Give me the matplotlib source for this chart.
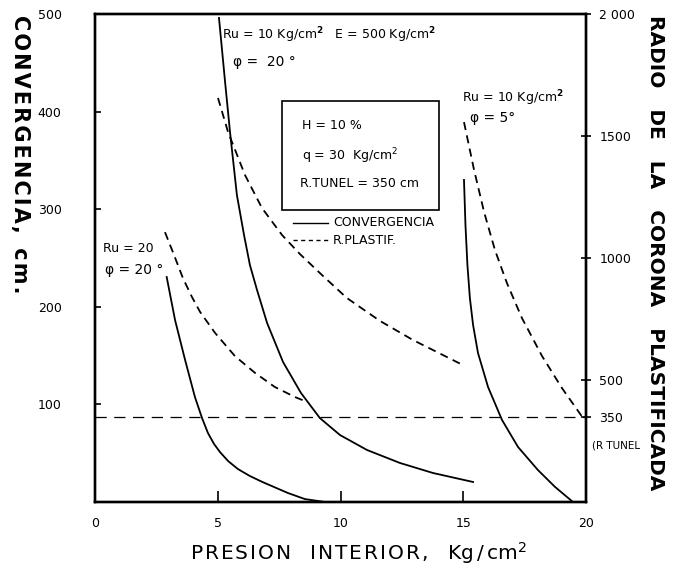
import numpy as np
import matplotlib
matplotlib.use('Agg')
import matplotlib.pyplot as plt

# presion interior (Kg/cm2) vs convergencia (cm) / radio plastificado (cm)
# Ru = 20, phi = 20
p_conv_a = [2.92, 3.26, 3.67, 4.07, 4.36, 4.60, 4.85, 5.09, 5.42, 5.82, 6.31, 6.82,
            7.86, 8.55, 9.37]
conv_a = [230.5, 186.5, 145.5, 107.6, 86, 70.7, 59.4, 51.2, 42, 33.8, 26.6, 20.5,
          9.2, 3, 0]
p_rad_a = [2.85, 3.22, 3.58, 3.95, 4.28, 4.89, 5.70, 6.52, 7.33, 8.15, 8.64]
rad_a = [1106, 1012, 918, 840, 779, 693, 598, 529, 471, 430, 410]

# Ru = 10, phi = 20
p_conv_b = [5.05, 5.30, 5.50, 5.78, 6.07, 6.31, 6.60, 7.01, 7.66, 8.39, 9.16,
            9.98, 11.08, 12.42, 13.77, 15.40]
conv_b = [496, 430, 379, 314.5, 273.6, 242.8, 217.2, 183.4, 143.4, 111.7, 86,
          68.6, 53.3, 40, 29.7, 20.5]
p_rad_b = [5.01, 5.42, 6.11, 6.80, 7.62, 8.35, 9.29, 10.26, 11.61, 12.95, 14.99]
rad_b = [1656, 1516, 1340, 1205, 1094, 1016, 926, 836, 742, 664, 561]

# Ru = 10, phi = 5
p_conv_c = [15.03, 15.09, 15.17, 15.27, 15.40, 15.60, 16.01, 16.58, 17.23, 18.04,
            18.74, 19.47]
conv_c = [330, 283.8, 242.8, 209, 181.4, 152.7, 117.8, 84, 56.4, 32.8, 15.4, 0]
p_rad_c = [15.03, 15.44, 15.85, 16.29, 16.78, 17.39, 18.21, 19.02, 19.88]
rad_c = [1557, 1361, 1188, 1033, 897, 754, 598, 467, 344]

r_tunel = 350
x_ticks = [0, 5, 10, 15, 20]
conv_ticks = [100, 200, 300, 400, 500]
rad_ticks = [500, 1000, 1500, 2000]

plt.rcParams['font.family'] = ['DejaVu Sans']


def spaced(s):
    # separacion entre letras como en el rotulado original
    return '\u200a'.join(s)


fig = plt.figure(figsize=(6.91, 5.82), dpi=100)
ax = fig.add_axes([95 / 691, 80 / 582, 491 / 691, 488 / 582])
ax2 = ax.twinx()

lw = 1.3
dash = (4.5, 3)
ax.plot(p_conv_a, conv_a, color='black', lw=lw)
ax.plot(p_conv_b, conv_b, color='black', lw=lw)
ax.plot(p_conv_c, conv_c, color='black', lw=lw)
ax2.plot(p_rad_a, rad_a, color='black', lw=lw, dashes=dash)
ax2.plot(p_rad_b, rad_b, color='black', lw=lw, dashes=dash)
ax2.plot(p_rad_c, rad_c, color='black', lw=lw, dashes=dash)
ax2.plot([0, 20], [r_tunel, r_tunel], color='black', lw=0.9, dashes=(9, 6))

ax.set_xlim(0, 20)
ax.set_ylim(0, 500)
ax2.set_ylim(0, 2000)

ax.set_xticks(x_ticks)
ax.set_yticks(conv_ticks)
ax2.set_yticks(rad_ticks + [r_tunel])
ax2.set_yticklabels(['500', '1000', '1500', '2 000', '350'])
ax.tick_params(axis='x', direction='in', length=8, width=1.2, pad=11, labelsize=9)
ax.tick_params(axis='y', direction='in', length=4, width=1.2, pad=24, labelsize=9)
ax2.tick_params(axis='y', direction='inout', length=7, width=1.2, pad=6, labelsize=9)

for a in (ax, ax2):
    for s in a.spines.values():
        s.set_linewidth(1.7)

# anotaciones
fs = 9
ax.text(5.17, 478, 'Ru = 10 Kg/cm$^{\\mathbf{2}}$   E = 500 Kg/cm$^{\\mathbf{2}}$', fontsize=fs, va='center')
ax.text(5.62, 451, 'φ =  20 °', fontsize=fs + 1, va='center')
ax.text(0.33, 260, 'Ru = 20', fontsize=fs, va='center')
ax.text(0.41, 238, 'φ = 20 °', fontsize=fs + 1, va='center')
ax.text(14.95, 414, 'Ru = 10 Kg/cm$^{\\mathbf{2}}$', fontsize=fs, va='center')
ax.text(15.27, 393, 'φ = 5°', fontsize=fs + 1, va='center')

box = plt.Rectangle((7.62, 299), 6.39, 112, fill=False, lw=1.2, color='black')
ax.add_patch(box)
ax.text(8.43, 386, 'H = 10 %', fontsize=fs, va='center')
ax.text(8.43, 354.5, 'q = 30  Kg/cm$^{2}$', fontsize=fs, va='center')
ax.text(8.35, 326, 'R.TUNEL = 350 cm', fontsize=fs, va='center')

ax.plot([8.07, 9.49], [286, 286], color='black', lw=1.0)
ax.text(9.69, 286, 'CONVERGENCIA', fontsize=fs, va='center')
ax.plot([8.07, 9.49], [268.4, 268.4], color='black', lw=1.0, dashes=(3, 2.5))
ax.text(9.69, 268.4, 'R.PLASTIF.', fontsize=fs, va='center')

ax.text(1.012, 0.115, '(R TUNEL', transform=ax.transAxes, fontsize=7.5, va='center')

# titulos de ejes
fig.text(358 / 691, 1 - 553 / 582,
         spaced('PRESION') + '   ' + spaced('INTERIOR,') + '   Kg$\\,/\\,$cm$^{2}$',
         fontsize=14.5, ha='center', va='center')
fig.text(20 / 691, 1 - 15 / 582, spaced('CONVERGENCIA,') + '  ' + spaced('cm.'),
         fontsize=15, fontweight='bold', rotation=-90, ha='center', va='top')
fig.text(655 / 691, 1 - 15 / 582, 'RADIO   DE   LA   CORONA   PLASTIFICADA', fontsize=14.5,
         fontweight='bold', rotation=-90, ha='center', va='top')

fig.savefig('out.png', dpi=100)
